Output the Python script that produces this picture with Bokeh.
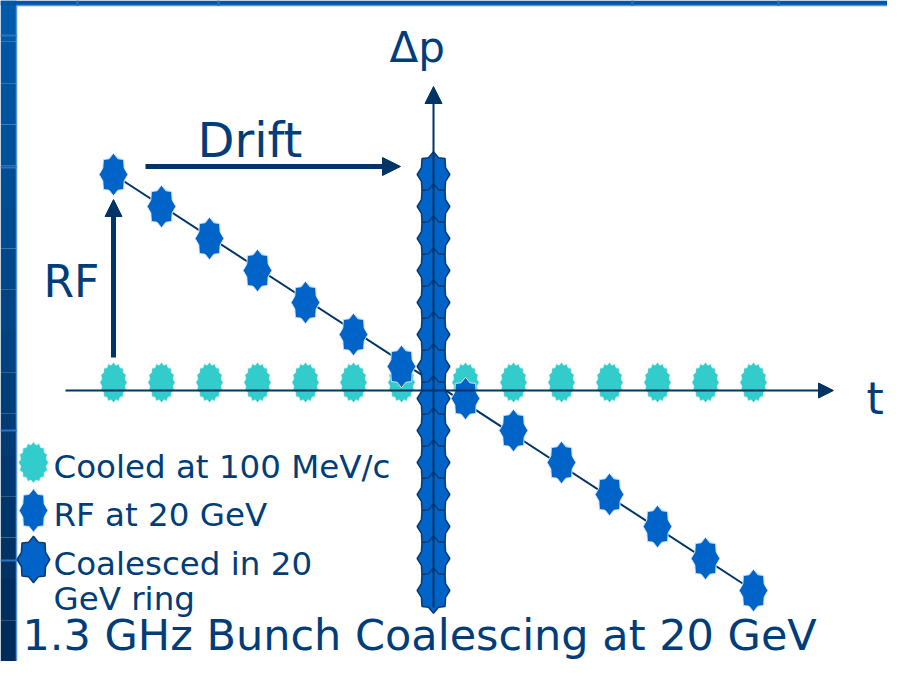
import numpy as np
from bokeh.plotting import figure
from bokeh.models import Range1d, Arrow, NormalHead, Label
from bokeh.embed import file_html
from bokeh.resources import INLINE

# ---------------- data ----------------
t_bunch = [-20, -17, -14, -11, -8, -5, -2, 2, 5, 8, 11, 14, 17, 20]
dp_cooled = [0, 0, 0, 0, 0, 0, 0, 0, 0, 0, 0, 0, 0, 0]
dp_rf = [13, 11, 9, 7, 5, 3, 1, -1, -3, -5, -7, -9, -11, -13]
t_coalesced = [0, 0, 0, 0, 0, 0, 0, 0, 0, 0, 0, 0, 0, 0]
dp_coalesced = [13, 11, 9, 7, 5, 3, 1, -1, -3, -5, -7, -9, -11, -13]
legend_labels = ["Cooled at 100 MeV/c", "RF at 20 GeV", "Coalesced in 20", "GeV ring"]
title_text = "1.3 GHz Bunch Coalescing at 20 GeV"

# ---------------- styles ----------------
NAVY = "#003466"
TEXT = "#013D79"
CYAN = "#33CCCC"
BLUE = "#0063C8"
FONT = "DejaVu Sans"

W, H = 887, 661
PX = 16.0           # pixels per data unit
OX, OY = 433, 382   # pixel position of the origin
X0, X1 = (0 - OX) / PX, (W - OX) / PX
Y0, Y1 = (OY - H) / PX, OY / PX

p = figure(width=W, height=H, x_range=Range1d(X0, X1), y_range=Range1d(Y0, Y1),
           output_backend="svg", toolbar_location=None, min_border=0,
           x_axis_type=None, y_axis_type=None, outline_line_color=None,
           background_fill_color="white", border_fill_color="white")
p.grid.visible = False


def sx(px):
    return (px - OX) / PX


def sy(py):
    return (OY - py) / PX


def star(cx, cy, n, rx, ry, inner):
    k = np.arange(2 * n)
    ang = np.pi / 2 + k * np.pi / n
    r = np.where(k % 2 == 0, 1.0, inner)
    return list(cx + rx * r * np.cos(ang)), list(cy + ry * r * np.sin(ang))


def stars(xs, ys, n, rx, ry, inner):
    px, py = [], []
    for x, y in zip(xs, ys):
        a, b = star(x, y, n, rx, ry, inner)
        px.append(a)
        py.append(b)
    return px, py


# slide frame: left strip with gradient, top strip
nb = 16
edges = np.linspace(Y1, Y0, nb + 1)
c_top = np.array([0x00, 0x5A, 0xAA])
c_bot = np.array([0x00, 0x2C, 0x5A])
cols = []
for i in range(nb):
    f = i / (nb - 1)
    c = (c_top * (1 - f) + c_bot * f).astype(int)
    cols.append("#%02x%02x%02x" % tuple(c))
p.quad(left=X0, right=sx(16), top=edges[:-1], bottom=edges[1:],
       fill_color=cols, line_color=None)
p.quad(left=X0, right=X1, top=Y1, bottom=sy(5), fill_color="#0056A6", line_color=None)
p.segment(x0=sx(16), y0=Y0, x1=sx(16), y1=sy(5), line_color="#5C95D6", line_width=1.5)
p.segment(x0=sx(16), y0=sy(5), x1=X1, y1=sy(5), line_color="#5C95D6", line_width=1.5)
deco_y = [35, 167, 430, 560]
p.segment(x0=X0, y0=[sy(v) for v in deco_y], x1=sx(16), y1=[sy(v) for v in deco_y],
          line_color="#2D72C2", line_width=2)
deco_x = [77, 218, 632, 778]
p.segment(x0=[sx(v) for v in deco_x], y0=Y1, x1=[sx(v) for v in deco_x], y1=sy(5),
          line_color="#1E68BA", line_width=3)

# axes
p.add_layout(Arrow(end=NormalHead(size=15, fill_color=NAVY, line_color=NAVY),
                   x_start=sx(65), y_start=sy(390), x_end=sx(833), y_end=sy(390),
                   line_color=NAVY, line_width=2))
p.add_layout(Arrow(end=NormalHead(size=17, fill_color=NAVY, line_color=NAVY),
                   x_start=0, y_start=sy(607), x_end=0, y_end=sy(86),
                   line_color=NAVY, line_width=2))

# RF line
p.line(x=[t_bunch[0], t_bunch[-1]], y=[dp_rf[0], dp_rf[-1]], line_color=NAVY, line_width=2)

# cooled bunches
cx, cy = stars(t_bunch, dp_cooled, 16, 0.86, 1.27, 0.87)
p.patches(cx, cy, fill_color=CYAN, line_color="#E6FAFA", line_width=0.8)

# RF bunches
rx_, ry_ = stars(t_bunch, dp_rf, 8, 0.90, 1.33, 0.80)
p.patches(rx_, ry_, fill_color=BLUE, line_color="#D6E6F7", line_width=1)

# coalesced bunches
kx, ky = stars(t_coalesced, dp_coalesced, 8, 1.02, 1.42, 0.80)
p.patches(kx, ky, fill_color=BLUE, line_color="#0A3A72", line_width=1.5)

# arrows Drift and RF
p.add_layout(Arrow(end=NormalHead(size=18, fill_color=NAVY, line_color=NAVY),
                   x_start=sx(145), y_start=sy(166), x_end=sx(400), y_end=sy(166),
                   line_color=NAVY, line_width=5))
p.add_layout(Arrow(end=NormalHead(size=17, fill_color=NAVY, line_color=NAVY),
                   x_start=sx(113), y_start=sy(357), x_end=sx(113), y_end=sy(199),
                   line_color=NAVY, line_width=5))

# legend markers
a, b = star(sx(33), sy(462), 16, 0.94, 1.29, 0.87)
p.patch(a, b, fill_color=CYAN, line_color="#E6FAFA", line_width=0.8)
a, b = star(sx(33), sy(510), 8, 0.90, 1.36, 0.80)
p.patch(a, b, fill_color=BLUE, line_color="#D6E6F7", line_width=1)
a, b = star(sx(33), sy(559), 8, 1.02, 1.45, 0.80)
p.patch(a, b, fill_color=BLUE, line_color="#0A3A72", line_width=1.5)


def lab(px, base_py, txt, size):
    # Label places the anchor ~0.39 em above the alphabetic baseline
    p.add_layout(Label(x=sx(px), y=sy(base_py - 0.39 * size), text=txt, text_font=FONT,
                       text_font_size="%gpx" % size, text_color=TEXT,
                       text_baseline="alphabetic", text_align="left"))


lab(389, 63, "\u0394p", 42)
lab(197, 158, "Drift", 48)
lab(43, 298, "RF", 44)
lab(866, 415, "t", 44)

leg_base = [479, 527, 576, 611]
for yy, tx in zip(leg_base, legend_labels):
    lab(53, yy, tx, 32.5)

lab(22, 651, title_text, 43)

open("out.html", "w").write(file_html(p, INLINE))
